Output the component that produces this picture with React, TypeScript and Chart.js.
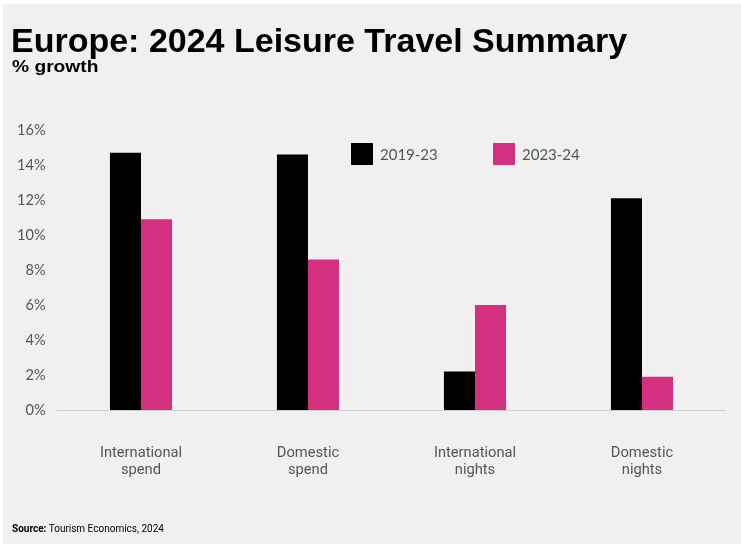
import React, { useEffect, useRef } from "react";
import { Chart, registerables } from "chart.js";

Chart.register(...registerables);

const categories: string[][] = [
  ["International", "spend"],
  ["Domestic", "spend"],
  ["International", "nights"],
  ["Domestic", "nights"],
];
const series2019_23: number[] = [14.7, 14.6, 2.2, 12.1];
const series2023_24: number[] = [10.9, 8.6, 6.0, 1.9];
const seriesNames: string[] = ["2019-23", "2023-24"];
const seriesColors: string[] = ["#000000", "#d5307f"];
const yTicks: number[] = [0, 2, 4, 6, 8, 10, 12, 14, 16];

export default function App() {
  const canvasRef = useRef<HTMLCanvasElement | null>(null);

  useEffect(() => {
    document.body.style.margin = "0";
    const ctx = canvasRef.current!;
    const chart = new Chart(ctx, {
      type: "bar",
      data: {
        labels: categories,
        datasets: [
          {
            label: seriesNames[0],
            data: series2019_23,
            backgroundColor: seriesColors[0],
            barPercentage: 1,
            categoryPercentage: 0.372,
          },
          {
            label: seriesNames[1],
            data: series2023_24,
            backgroundColor: seriesColors[1],
            barPercentage: 1,
            categoryPercentage: 0.372,
          },
        ],
      },
      options: {
        animation: false,
        responsive: false,
        maintainAspectRatio: false,
        layout: { padding: { top: 130, right: 15.5, bottom: 0, left: 0 } },
        plugins: {
          legend: { display: false },
          tooltip: { enabled: false },
          title: { display: false },
        },
        scales: {
          x: {
            grid: { display: false, drawTicks: false },
            border: { display: true, color: "#cfcfcf", width: 1 },
            ticks: {
              color: "#555555",
              font: { family: "Roboto", size: 14.7, lineHeight: 1.15 },
              padding: 35,
              maxRotation: 0,
              autoSkip: false,
            },
            afterFit: (s: any) => {
              s.height = 134;
            },
          },
          y: {
            min: 0,
            max: 16,
            grid: { display: false, drawTicks: false },
            border: { display: false },
            afterBuildTicks: (s: any) => {
              s.ticks = yTicks.map((v) => ({ value: v }));
            },
            ticks: {
              color: "#555555",
              font: { family: "Lato", size: 14.5 },
              padding: 12,
              callback: (v: any) => v + "%",
            },
            afterFit: (s: any) => {
              s.width = 57.5;
            },
          },
        },
      },
    });
    return () => chart.destroy();
  }, []);

  const legendItem = (i: number, left: number) => (
    <div
      key={i}
      style={{
        position: "absolute",
        left,
        top: 143,
        display: "flex",
        alignItems: "center",
        height: 22,
      }}
    >
      <div style={{ width: 22, height: 22, background: seriesColors[i] }} />
      <span
        style={{
          marginLeft: 7,
          fontFamily: "Lato",
          fontSize: 15,
          color: "#555555",
        }}
      >
        {seriesNames[i]}
      </span>
    </div>
  );

  return (
    <div
      style={{
        position: "absolute",
        left: 0,
        top: 0,
        width: 741,
        height: 544,
        background: "#ffffff",
        overflow: "hidden",
      }}
    >
      <div
        style={{
          position: "absolute",
          left: 3,
          top: 4,
          width: 738,
          height: 540,
          background: "#f0f0f0",
        }}
      />
      <canvas
        ref={canvasRef}
        width={741}
        height={544}
        style={{ position: "absolute", left: 0, top: 0, width: 741, height: 544 }}
      />
      <div
        style={{
          position: "absolute",
          left: 11,
          top: 20,
          fontFamily: "'Liberation Sans', Arial, sans-serif",
          fontWeight: 700,
          fontSize: 34,
          lineHeight: "40px",
          color: "#000",
          whiteSpace: "nowrap",
        }}
      >
        Europe: 2024 Leisure Travel Summary
      </div>
      <div
        style={{
          position: "absolute",
          left: 12,
          top: 57,
          fontFamily: "'Liberation Sans', Arial, sans-serif",
          fontWeight: 700,
          fontSize: 16,
          lineHeight: "20px",
          color: "#000",
          whiteSpace: "nowrap",
          transform: "scaleX(1.2)",
          transformOrigin: "left top",
        }}
      >
        % growth
      </div>
      {legendItem(0, 351)}
      {legendItem(1, 493)}
      <div
        style={{
          position: "absolute",
          left: 12,
          top: 523,
          fontFamily: "Roboto",
          fontSize: 10,
          lineHeight: "12px",
          color: "#000",
          whiteSpace: "nowrap",
        }}
      >
        <b>Source:</b> Tourism Economics, 2024
      </div>
    </div>
  );
}
